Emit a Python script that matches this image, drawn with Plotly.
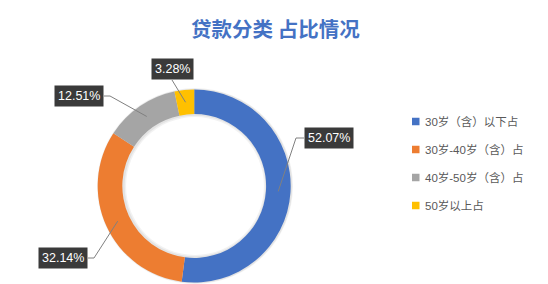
import math
import plotly.graph_objects as go

# ---------------- data ----------------
categories = ["30岁（含）以下占", "30岁-40岁（含）占", "40岁-50岁（含）占", "50岁以上占"]
shares = [52.07, 32.14, 12.51, 3.28]
colors = ["#4472C4", "#ED7D31", "#A5A5A5", "#FFC000"]
title_text = "贷款分类 占比情况"

# ---------------- layout constants (pixels) ----------------
W, H = 548, 284
CX, CY, R_OUT, HOLE = 194.2, 186.0, 96.5, 0.745
R_MID = R_OUT * (1 + HOLE) / 2

# label box anchor (pixel) and side for each slice
label_anchor = [(304, 138), (88, 258), (104, 96), (172, 80)]
label_side = ["right", "left", "left", "top"]

LEG_X, LEG_Y0, LEG_STEP = 412, 121.5, 28


def fx(x):
    return x / W


def fy(y):
    return min(1.0, max(0.0, 1 - y / H))


def domain(r, dx=0.0, dy=0.0):
    return dict(x=[fx(CX - r + dx), fx(CX + r + dx)],
                y=[fy(CY + r + dy), fy(CY - r + dy)])


fig = go.Figure()

# soft shadow under the ring
inner = R_OUT * HOLE
for grow, alpha in [(1.5, 0.05), (0.8, 0.06)]:
    r = R_OUT + grow
    fig.add_trace(go.Pie(
        values=[1], labels=["s"], hole=(inner - 2 * grow) / r,
        marker=dict(colors=[f"rgba(0,0,0,{alpha})"], line=dict(width=0)),
        domain=domain(r, 0.8, 0.0), textinfo="none", hoverinfo="skip",
        showlegend=False, sort=False))

fig.add_trace(go.Pie(
    labels=categories, values=shares, hole=HOLE, sort=False,
    direction="clockwise", rotation=0,
    marker=dict(colors=colors, line=dict(width=0)),
    textinfo="none", hoverinfo="label+percent",
    domain=domain(R_OUT), showlegend=False))

annotations = []
shapes = []

total = sum(shares)
cum = 0.0
for i, v in enumerate(shares):
    mid = (cum + v / 2) / total * 2 * math.pi
    cum += v
    rx = CX + R_MID * math.sin(mid)
    ry = CY - R_MID * math.cos(mid)
    ax, ay = label_anchor[i]
    side = label_side[i]
    txt = f"{v:.2f}%"
    if side == "right":
        ex, ey = ax - 8, ay
        xanchor, yanchor = "left", "middle"
    elif side == "left":
        ex, ey = ax + 6, ay
        xanchor, yanchor = "right", "middle"
    else:
        ex, ey = ax, ay
        xanchor, yanchor = "center", "bottom"
    shapes.append(dict(type="path", xref="paper", yref="paper",
                       path=f"M {fx(rx)} {fy(ry)} L {fx(ex)} {fy(ey)} L {fx(ax)} {fy(ay)}",
                       line=dict(color="#808080", width=1)))
    annotations.append(dict(
        x=fx(ax), y=fy(ay), xref="paper", yref="paper", text=txt,
        showarrow=False, xanchor=xanchor, yanchor=yanchor,
        bgcolor="#3a3a3a", borderpad=3,
        font=dict(family="Liberation Sans, Arial", size=12.5, color="#ffffff")))

# legend (drawn manually for exact spacing)
for i, (cat, col) in enumerate(zip(categories, colors)):
    y = LEG_Y0 + i * LEG_STEP
    shapes.append(dict(type="rect", xref="paper", yref="paper",
                       x0=fx(LEG_X), x1=fx(LEG_X + 7.5),
                       y0=fy(y + 3.75), y1=fy(y - 3.75),
                       fillcolor=col, line=dict(width=0)))
    annotations.append(dict(
        x=fx(LEG_X + 11), y=fy(y), xref="paper", yref="paper", text=cat,
        showarrow=False, xanchor="left", yanchor="middle",
        font=dict(family="Liberation Sans, Noto Sans CJK SC", size=11.5, color="#595959")))

annotations.append(dict(
    x=fx(275.5), y=fy(27.5), xref="paper", yref="paper", text=f"<b>{title_text}</b>",
    showarrow=False, xanchor="center", yanchor="middle",
    font=dict(family="Noto Sans CJK SC", size=20.5, color="#4472C4")))

fig.update_layout(
    width=W, height=H, margin=dict(l=0, r=0, t=0, b=0),
    paper_bgcolor="#ffffff", plot_bgcolor="#ffffff",
    annotations=annotations, shapes=shapes, showlegend=False)

fig.write_html("out.html")
